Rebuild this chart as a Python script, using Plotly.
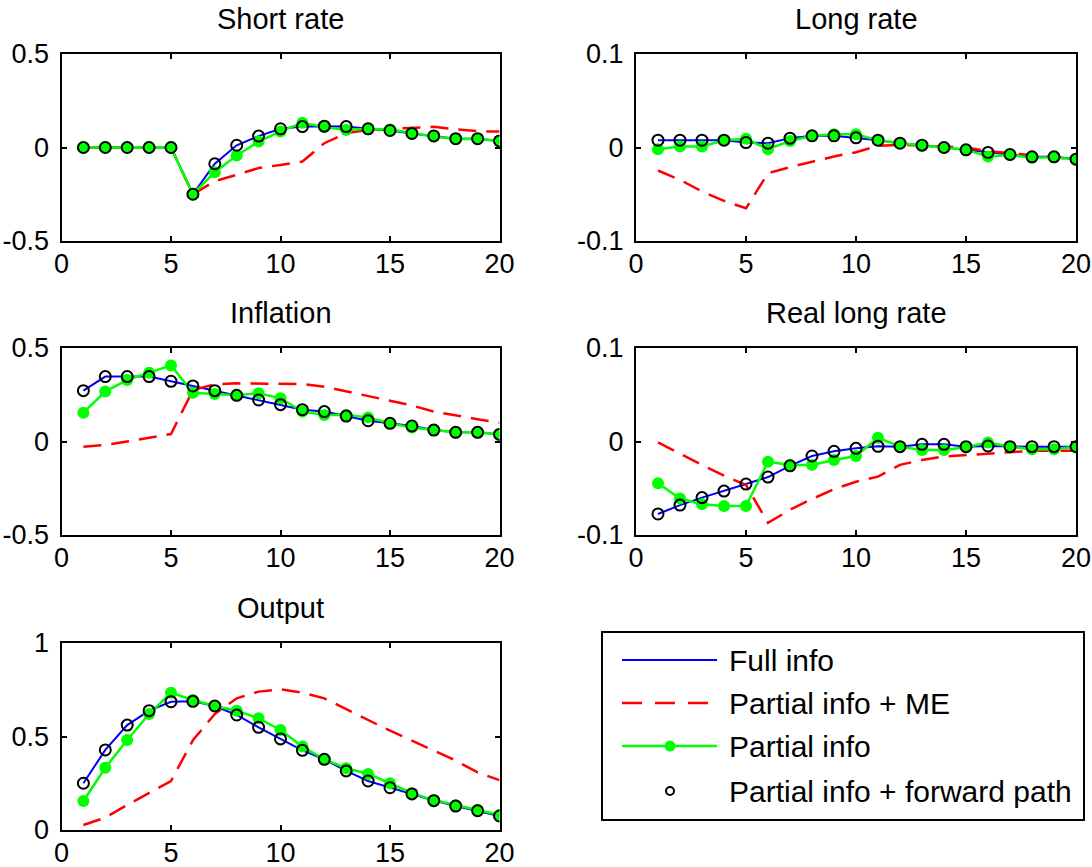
import plotly.graph_objects as go

W, H = 1092, 867
FONT = "Liberation Sans, Arial, sans-serif"

# ---- data -----------------------------------------------------------------
periods = list(range(1, 21))

series_names = ["Full info", "Partial info + ME", "Partial info",
                "Partial info + forward path"]
panel_titles = ["Short rate", "Long rate", "Inflation", "Real long rate", "Output"]

short_full = [0, 0, 0, 0, 0, -0.25, -0.087, 0.012, 0.061, 0.100, 0.112, 0.114,
              0.112, 0.100, 0.091, 0.075, 0.062, 0.047, 0.047, 0.035]
short_me = [0, 0, 0, 0, 0, -0.25, -0.180, -0.146, -0.110, -0.093, -0.075, 0.023,
            0.077, 0.094, 0.100, 0.104, 0.111, 0.097, 0.087, 0.085]
short_partial = [0, 0, 0, 0, 0, -0.25, -0.132, -0.043, 0.032, 0.086, 0.132, 0.109,
                 0.094, 0.100, 0.096, 0.078, 0.059, 0.046, 0.047, 0.035]

long_full = [0.0078, 0.0078, 0.0078, 0.0078, 0.0053, 0.0046, 0.0100, 0.0125, 0.0125,
             0.0103, 0.0078, 0.0046, 0.0025, 0.0, -0.0025, -0.0053, -0.0075, -0.0100,
             -0.0100, -0.0125]
long_me = [-0.0246, -0.0346, -0.0470, -0.0570, -0.0650, -0.0275, -0.0210, -0.0150,
           -0.0096, -0.0050, 0.0018, 0.0029, 0.0020, 0.0010, 0.0, -0.0040, -0.0060,
           -0.0080, -0.0100, -0.0125]
long_partial = [-0.0018, 0.0010, 0.0010, 0.0078, 0.0093, -0.0018, 0.0070, 0.0125,
                0.0143, 0.0143, 0.0078, 0.0046, 0.0018, 0.0, -0.0025, -0.0096, -0.0080,
                -0.0110, -0.0103, -0.0130]

infl_full = [0.272, 0.347, 0.347, 0.347, 0.322, 0.297, 0.272, 0.247, 0.222, 0.197,
             0.170, 0.160, 0.136, 0.111, 0.097, 0.083, 0.061, 0.049, 0.049, 0.038]
infl_me = [-0.028, -0.019, 0.0, 0.022, 0.040, 0.275, 0.306, 0.311, 0.311, 0.311,
           0.307, 0.293, 0.267, 0.245, 0.218, 0.193, 0.160, 0.138, 0.119, 0.100]
infl_partial = [0.154, 0.267, 0.329, 0.368, 0.407, 0.261, 0.254, 0.247, 0.258, 0.231,
                0.160, 0.142, 0.142, 0.129, 0.097, 0.075, 0.061, 0.049, 0.049, 0.038]

rlong_full = [-0.0775, -0.0680, -0.0600, -0.0530, -0.0455, -0.0380, -0.0260, -0.0155,
              -0.0105, -0.0073, -0.0052, -0.0055, -0.0030, -0.0030, -0.0055, -0.0048,
              -0.0055, -0.0055, -0.0055, -0.0055]
rlong_me = [-0.0010, -0.0134, -0.0250, -0.0365, -0.0465, -0.0870, -0.0730, -0.0615,
            -0.0510, -0.0430, -0.0376, -0.0250, -0.0198, -0.0160, -0.0144, -0.0127,
            -0.0110, -0.0100, -0.0098, -0.0098]
rlong_partial = [-0.0447, -0.0610, -0.0670, -0.0690, -0.0690, -0.0216, -0.0250, -0.0250,
                 -0.0198, -0.0155, 0.0040, -0.0055, -0.0090, -0.0090, -0.0062, -0.0012,
                 -0.0055, -0.0084, -0.0084, -0.0055]

output_full = [0.250, 0.428, 0.561, 0.638, 0.686, 0.688, 0.663, 0.615, 0.549, 0.487,
               0.426, 0.378, 0.316, 0.262, 0.226, 0.193, 0.157, 0.128, 0.103, 0.075]
output_me = [0.027, 0.066, 0.134, 0.196, 0.262, 0.480, 0.620, 0.704, 0.740, 0.752,
             0.734, 0.704, 0.645, 0.588, 0.531, 0.478, 0.424, 0.371, 0.308, 0.267]
output_partial = [0.155, 0.333, 0.481, 0.620, 0.734, 0.695, 0.663, 0.638, 0.597, 0.535,
                  0.446, 0.378, 0.330, 0.300, 0.250, 0.197, 0.160, 0.132, 0.108, 0.080]

x_ticks = [0, 5, 10, 15, 20]
rate_ticks = [-0.5, 0, 0.5]
rate_tick_text = ["-0.5", "0", "0.5"]
long_ticks = [-0.1, 0, 0.1]
long_tick_text = ["-0.1", "0", "0.1"]
output_ticks = [0, 0.5, 1]
output_tick_text = ["0", "0.5", "1"]

panels = [
    (short_full, short_me, short_partial, [-0.5, 0.5], rate_ticks, rate_tick_text),
    (long_full, long_me, long_partial, [-0.1, 0.1], long_ticks, long_tick_text),
    (infl_full, infl_me, infl_partial, [-0.5, 0.5], rate_ticks, rate_tick_text),
    (rlong_full, rlong_me, rlong_partial, [-0.1, 0.1], long_ticks, long_tick_text),
    (output_full, output_me, output_partial, [0, 1], output_ticks, output_tick_text),
]

# ---- layout geometry (pixels) ---------------------------------------------
col_px = [(61.5, 499.5), (636, 1076)]
row_px = [(54, 241), (348, 535), (643, 830)]
legend_px = (603, 1083, 633, 819)
TITLE_GAP = 35
TICK_SIZE, TITLE_SIZE, LEGEND_SIZE = 27, 29, 30


def xdom(a, b):
    return [a / W, b / W]


def ydom(top, bottom):
    return [1 - bottom / H, 1 - top / H]


BLUE, RED, GREEN = "#0000ff", "#ff0000", "#00ff00"

fig = go.Figure()
layout = dict(
    width=W, height=H,
    margin=dict(l=0, r=0, t=0, b=0, autoexpand=False),
    paper_bgcolor="white", plot_bgcolor="white",
    showlegend=False,
    font=dict(family=FONT, size=TICK_SIZE, color="black"),
    annotations=[],
)

axis_common = dict(showgrid=False, zeroline=False, showline=True, linecolor="black",
                   linewidth=2, mirror="ticks", ticks="inside", ticklen=5,
                   tickwidth=1.5, tickcolor="black", automargin=False,
                   tickfont=dict(family=FONT, size=TICK_SIZE, color="black"))

for i, (full, me, partial, yrange, yticks, ytext) in enumerate(panels):
    n = i + 1
    col = i % 2
    row = i // 2
    xa = "x" if n == 1 else f"x{n}"
    ya = "y" if n == 1 else f"y{n}"
    xkey = "xaxis" if n == 1 else f"xaxis{n}"
    ykey = "yaxis" if n == 1 else f"yaxis{n}"

    layout[xkey] = dict(axis_common, domain=xdom(*col_px[col]), anchor=ya,
                        range=[0, 20], tickvals=x_ticks,
                        ticktext=[str(v) for v in x_ticks], ticklabelstandoff=-2)
    layout[ykey] = dict(axis_common, domain=ydom(*row_px[row]), anchor=xa,
                        range=yrange, tickvals=yticks, ticktext=ytext,
                        ticklabelstandoff=5)

    fig.add_trace(go.Scatter(x=periods, y=full, mode="lines", xaxis=xa, yaxis=ya,
                             line=dict(color=BLUE, width=2), name=series_names[0]))
    fig.add_trace(go.Scatter(x=periods, y=me, mode="lines", xaxis=xa, yaxis=ya,
                             line=dict(color=RED, width=2.5, dash="18px,10px"),
                             name=series_names[1]))
    fig.add_trace(go.Scatter(x=periods, y=partial, mode="lines+markers", xaxis=xa,
                             yaxis=ya, line=dict(color=GREEN, width=2.5),
                             marker=dict(color=GREEN, size=12, symbol="circle",
                                         line=dict(width=0)),
                             name=series_names[2]))
    fig.add_trace(go.Scatter(x=periods, y=full, mode="markers", xaxis=xa, yaxis=ya,
                             marker=dict(symbol="circle-open", size=11, color="black",
                                         line=dict(width=2, color="black")),
                             name=series_names[3]))

    cx = sum(col_px[col]) / 2 / W
    layout["annotations"].append(dict(
        text=panel_titles[i], x=cx, y=1 - (row_px[row][0] - TITLE_GAP) / H,
        xref="paper", yref="paper", xanchor="center", yanchor="middle",
        showarrow=False, font=dict(family=FONT, size=TITLE_SIZE, color="black")))

# ---- legend box, drawn on its own bare axes (pixel units inside the box) --
lx0, lx1, ly0, ly1 = legend_px
layout["xaxis6"] = dict(domain=xdom(lx0, lx1), anchor="y6", range=[0, lx1 - lx0],
                        showgrid=False, zeroline=False, showticklabels=False,
                        ticks="", showline=True, mirror=True, linecolor="black",
                        linewidth=2, automargin=False)
layout["yaxis6"] = dict(domain=ydom(ly0, ly1), anchor="x6", range=[ly1 - ly0, 0],
                        showgrid=False, zeroline=False, showticklabels=False,
                        ticks="", showline=True, mirror=True, linecolor="black",
                        linewidth=2, automargin=False)

sample_x = [19, 114]
sample_mid = 67
row_y = [27, 70, 113, 158]
text_x = 124

fig.add_trace(go.Scatter(x=sample_x, y=[row_y[0]] * 2, mode="lines", xaxis="x6",
                         yaxis="y6", line=dict(color=BLUE, width=2)))
fig.add_trace(go.Scatter(x=sample_x, y=[row_y[1]] * 2, mode="lines", xaxis="x6",
                         yaxis="y6", line=dict(color=RED, width=2.5, dash="20px,13px")))
fig.add_trace(go.Scatter(x=sample_x, y=[row_y[2]] * 2, mode="lines", xaxis="x6",
                         yaxis="y6", line=dict(color=GREEN, width=2.5)))
fig.add_trace(go.Scatter(x=[sample_mid], y=[row_y[2]], mode="markers", xaxis="x6",
                         yaxis="y6", marker=dict(color=GREEN, size=11)))
fig.add_trace(go.Scatter(x=[sample_mid], y=[row_y[3]], mode="markers", xaxis="x6",
                         yaxis="y6",
                         marker=dict(symbol="circle-open", size=8, color="black",
                                     line=dict(width=2, color="black"))))

for name, yy in zip(series_names, row_y):
    layout["annotations"].append(dict(
        text=name, x=text_x, y=yy, xref="x6", yref="y6", xanchor="left",
        yanchor="middle", showarrow=False,
        font=dict(family=FONT, size=LEGEND_SIZE, color="black")))

fig.update_layout(**layout)
fig.write_html("out.html")
